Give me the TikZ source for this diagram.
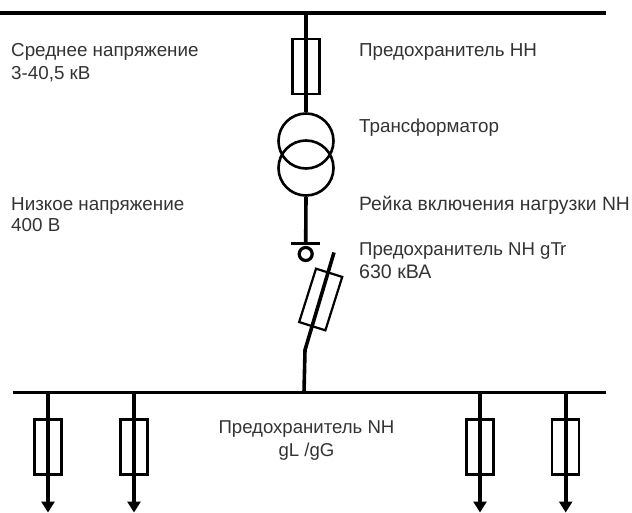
\documentclass[tikz,border=0pt]{standalone}
\usepackage{fontspec}
\setmainfont{Liberation Sans}
\usetikzlibrary{arrows.meta,calc}
\definecolor{ink}{gray}{0.2}
\tikzset{
  bus/.style={line width=3.6pt},
  wire/.style={line width=3.6pt},
  feeder/.style={line width=3.6pt,-{Triangle[width=13pt,length=11pt]}},
  fuse/.style={draw,line width=2.2pt,minimum width=27pt,minimum height=55pt,inner sep=0pt,rectangle},
  coil/.style={draw,line width=2.6pt,circle,minimum size=55pt,inner sep=0pt},
  ring/.style={draw,line width=3.2pt,circle,minimum size=13pt,inner sep=0pt},
  lbl/.style={anchor=base west,inner sep=0pt,font=\fontsize{18.8pt}{22pt}\selectfont,text=ink},
  clbl/.style={anchor=base,inner sep=0pt,font=\fontsize{18.6pt}{22pt}\selectfont,text=ink}
}
\begin{document}
\begin{tikzpicture}[x=1pt,y=-1pt]
\useasboundingbox (0,0) rectangle (632,513);
\clip (0,0) rectangle (632,513);
% buses
\coordinate (ta) at (0,13); \coordinate (tb) at (606,13);
\coordinate (ba) at (13,392.5); \coordinate (bb) at (605.5,392.5);
\coordinate (tj) at (306,13); \coordinate (bj) at (304,392.5);
\draw[bus] (ta) -- (tb);
\draw[bus] (ba) -- (bb);
% upper fuse and transformer
\node[coil] (c1) at (306,141) {};
\node[coil] (c2) at (306,168) {};
\node[fuse] (f0) at (306,66.5) {};
\draw[wire] (tj) -- (c1.north);
% load-switch rail
\coordinate (ra) at (291,244); \coordinate (rb) at (319.5,244); \coordinate (rj) at (305.7,244);
\draw[wire] (c2.south) -- (rj);
\draw[line width=3pt] (ra) -- (rb);
\node[ring] (r) at (305.7,254) {};
% tilted fuse
\node[fuse,rotate=-17.5,minimum width=27.5pt,minimum height=56pt] (f1) at (320.7,299.5) {};
\coordinate (da) at (334,252.5); \coordinate (db) at (305,350);
\draw[wire,line join=round] (da) -- (db) -- (bj);
% feeders
\foreach \n/\x in {a/48,b/134,c/480,d/565.7}{
  \node[fuse] (f\n) at (\x,447) {};
  \coordinate (s\n) at (\x,392.5);
  \coordinate (e\n) at (\x,512.5);
  \draw[feeder] (s\n) -- (e\n);
}
% labels
\node[lbl] (t1) at (11,56.7) {Среднее напряжение};
\node[lbl] (t2) at (11,79.5) {3-40,5 кВ};
\node[lbl] (t3) at (11,211) {Низкое напряжение};
\node[lbl] (t4) at (11,232) {400 В};
\node[lbl] (t5) at (359,56.7) {Предохранитель НН};
\node[lbl] (t6) at (359,132.7) {Трансформатор};
\node[lbl,font=\fontsize{19.3pt}{22pt}\selectfont] (t7) at (359,211) {Рейка включения нагрузки NH};
\node[lbl,font=\fontsize{18.6pt}{22pt}\selectfont] (t8) at (359,255) {Предохранитель NH gT\kern-1.8pt r};
\node[lbl,font=\fontsize{19.6pt}{22pt}\selectfont] (t9) at (359,278) {630 кВА};
\node[clbl] (t10) at (306.5,433) {Предохранитель NH};
\node[clbl] (t11) at (306.5,456.5) {gL /gG};
\end{tikzpicture}
\end{document}
